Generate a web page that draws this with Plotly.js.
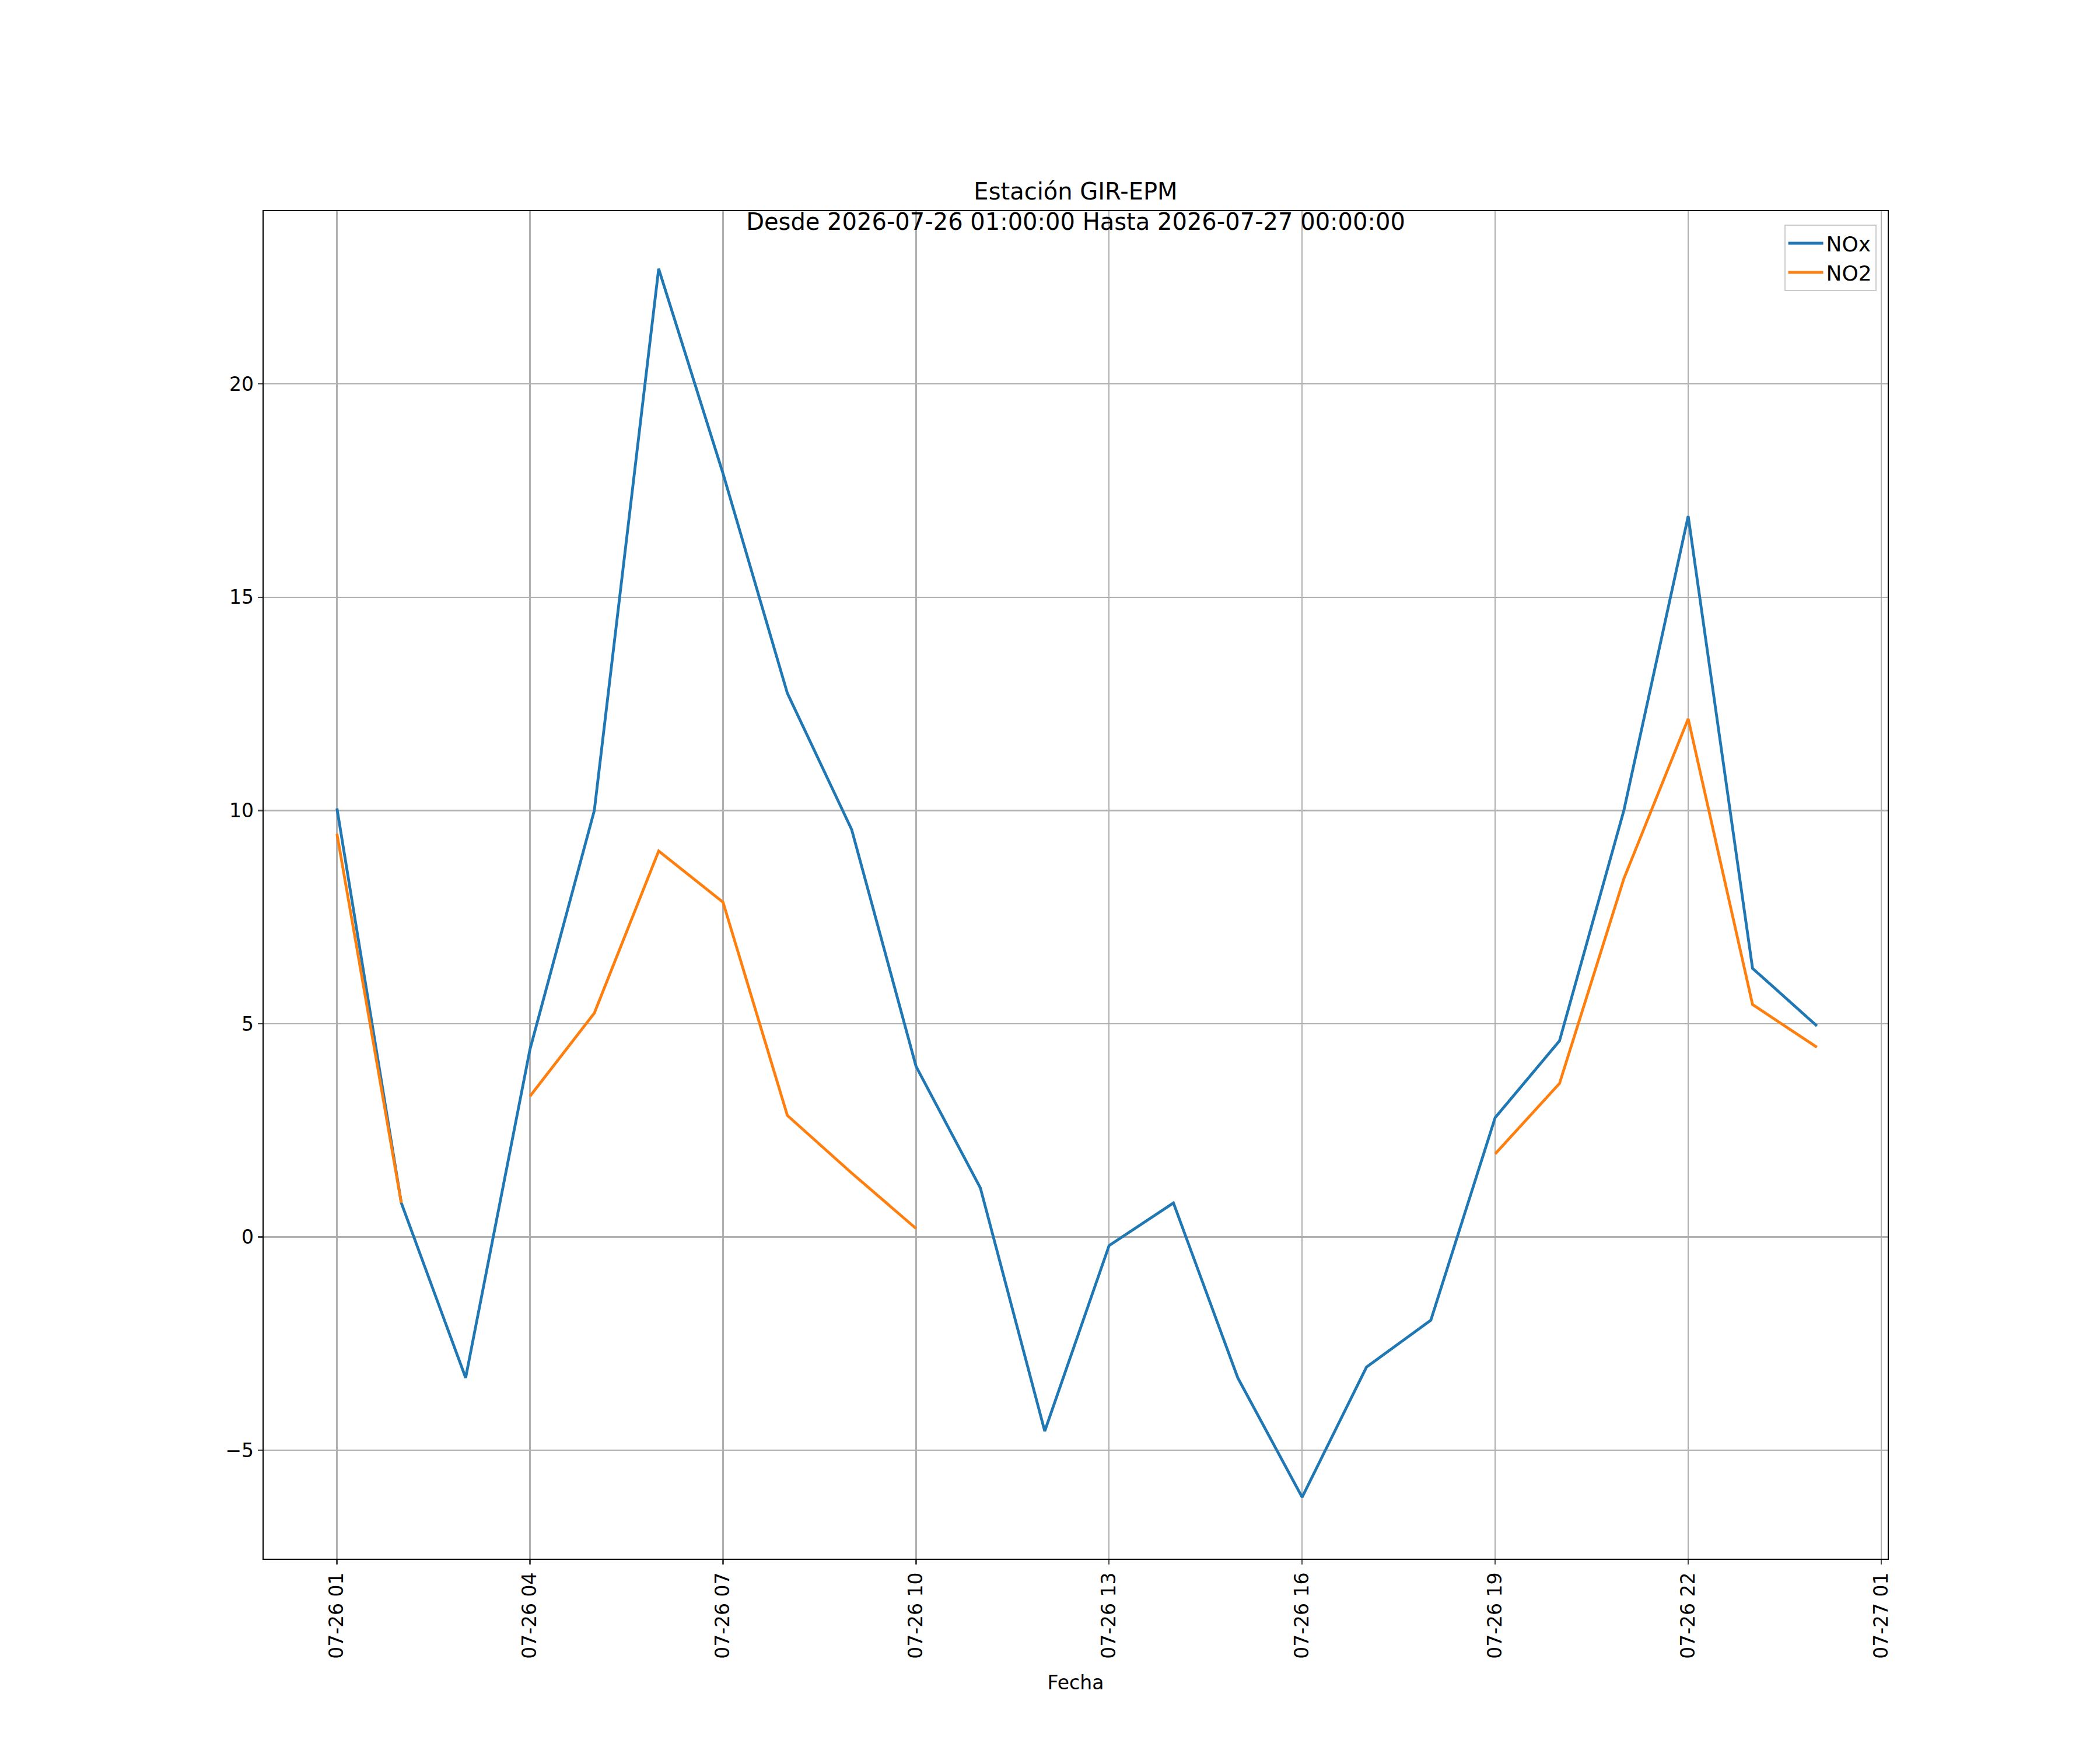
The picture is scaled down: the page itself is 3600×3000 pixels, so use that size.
<!DOCTYPE html>
<html><head><meta charset="utf-8">
<script src="https://cdn.plot.ly/plotly-3.0.1.min.js"></script>
<style>body{margin:0}</style></head><body>
<div id="c" style="width:3600px;height:3000px"></div>
<script>
const times = ["2026-07-26 01:00","2026-07-26 02:00","2026-07-26 03:00","2026-07-26 04:00","2026-07-26 05:00","2026-07-26 06:00","2026-07-26 07:00","2026-07-26 08:00","2026-07-26 09:00","2026-07-26 10:00","2026-07-26 11:00","2026-07-26 12:00","2026-07-26 13:00","2026-07-26 14:00","2026-07-26 15:00","2026-07-26 16:00","2026-07-26 17:00","2026-07-26 18:00","2026-07-26 19:00","2026-07-26 20:00","2026-07-26 21:00","2026-07-26 22:00","2026-07-26 23:00","2026-07-27 00:00"];
const nox = [10.05,0.8,-3.3,4.4,10.0,22.7,17.9,12.75,9.55,4.0,1.15,-4.55,-0.2,0.8,-3.3,-6.1,-3.05,-1.95,2.8,4.6,10.0,16.9,6.3,4.95];
const no2 = [9.45,0.8,null,3.3,5.25,9.05,7.85,2.85,1.5,0.2,null,null,null,null,null,null,null,null,1.95,3.6,8.4,12.15,5.45,4.45];
const tickVals = ["2026-07-26 01:00","2026-07-26 04:00","2026-07-26 07:00","2026-07-26 10:00","2026-07-26 13:00","2026-07-26 16:00","2026-07-26 19:00","2026-07-26 22:00","2026-07-27 01:00"];
const tickText = ["07-26 01","07-26 04","07-26 07","07-26 10","07-26 13","07-26 16","07-26 19","07-26 22","07-27 01"];
const f = {family:"DejaVu Sans", size:33, color:"#000"};
Plotly.newPlot("c",[
 {x:times,y:nox,name:"NOx",mode:"lines",line:{color:"#1f77b4",width:4.8},connectgaps:false},
 {x:times,y:no2,name:"NO2",mode:"lines",line:{color:"#ff7f0e",width:4.8},connectgaps:false}
],{
 width:3600,height:3000,paper_bgcolor:"#fff",plot_bgcolor:"#fff",font:f,
 margin:{l:452,r:364,t:362,b:328},
 title:{text:"Estación GIR-EPM<br>Desde 2026-07-26 01:00:00 Hasta 2026-07-27 00:00:00",font:{family:"DejaVu Sans",size:40},xref:"paper",x:0.5,xanchor:"center",yref:"paper",y:1,yanchor:"bottom",pad:{b:20}},
 xaxis:{type:"date",range:["2026-07-25 23:51:40","2026-07-27 01:06:00"],tickvals:tickVals,ticktext:tickText,tickangle:-90,
  showgrid:true,gridcolor:"#b0b0b0",gridwidth:2.3,showline:true,linecolor:"#000",linewidth:2.3,mirror:true,
  ticks:"outside",ticklen:8,tickwidth:2.3,zeroline:false,title:{text:"Fecha",font:f,standoff:30}},
 yaxis:{range:[-7.54,24.05],tickvals:[-5,0,5,10,15,20],showgrid:true,gridcolor:"#b0b0b0",gridwidth:2.3,
  showline:true,linecolor:"#000",linewidth:2.3,mirror:true,ticks:"outside",ticklen:8,tickwidth:2.3,zeroline:false},
 legend:{x:0.993,y:0.99,xanchor:"right",yanchor:"top",bgcolor:"rgba(255,255,255,0.8)",bordercolor:"#ccc",borderwidth:2,font:{family:"DejaVu Sans",size:36},itemwidth:60,tracegroupgap:8},
 showlegend:true
},{staticPlot:true});
</script></body></html>
